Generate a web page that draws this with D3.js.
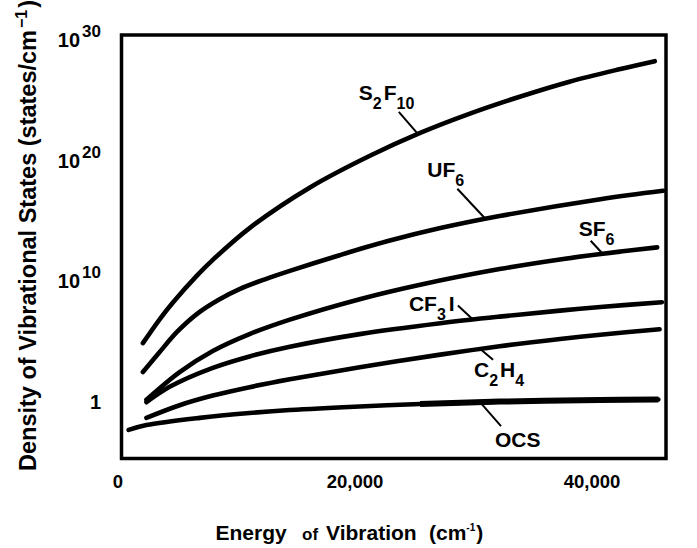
<!DOCTYPE html>
<html><head><meta charset="utf-8">
<script src="https://cdn.jsdelivr.net/npm/d3@7/dist/d3.min.js"></script>
<style>
body{margin:0;background:#fff}
svg{display:block}
text{font-family:"Liberation Sans",Arial,Helvetica,sans-serif;font-weight:bold;fill:#000}
</style>
</head><body>
<svg id="c" width="697" height="548"></svg>
<script>
// ---- data (energy in cm^-1, density as log10 of states/cm^-1) ----
const seriesNames = ["S2F10","UF6","SF6","CF3I","C2H4","OCS"];
const energyS2F10 = [2100,3500,4600,6700,8000,11100,16200,21300,25500,29700,33900,38100,42400,45300];
const log10S2F10  = [4.8,6.76,8.13,10.44,11.71,14.35,17.72,20.37,22.25,23.85,25.25,26.5,27.55,28.2];
const energyUF6   = [2100,3500,5000,6700,8500,10300,12400,14500,18700,22700,27200,32200,40700,46000];
const log10UF6    = [2.4,4.05,5.75,7.25,8.4,9.3,10.1,10.8,12.1,13.25,14.35,15.35,16.75,17.45];
const energySF6   = [2400,5200,8000,11100,14500,20400,25500,32200,37300,42400,45500];
const log10SF6    = [0.1,2.4,4.15,5.55,6.75,8.45,9.65,10.95,11.75,12.4,12.75];
const energyCF3I  = [2400,4400,8000,11100,14500,20400,27200,32200,37300,40700,45900];
const log10CF3I   = [-0.1,1.2,2.75,3.7,4.5,5.55,6.45,7.0,7.5,7.8,8.2];
const energyC2H4  = [2400,5200,8000,11100,14500,20400,27200,32200,37300,40700,45700];
const log10C2H4   = [-1.4,-0.35,0.45,1.15,1.8,2.8,3.85,4.55,5.15,5.5,5.95];
const energyOCS   = [900,2400,6900,11100,14500,20400,25500,32200,40700,45600];
const log10OCS    = [-2.4,-2.0,-1.4,-1.0,-0.75,-0.45,-0.25,-0.05,0.08,0.12];
const xTickValues = [0,20000,40000];
const xTickLabels = ["0","20,000","40,000"];
const yTickExponents = [0,10,20,30];

const energies = [energyS2F10,energyUF6,energySF6,energyCF3I,energyC2H4,energyOCS];
const logs = [log10S2F10,log10UF6,log10SF6,log10CF3I,log10C2H4,log10OCS];

// ---- layout ----
const frame = {left:121.5, right:666, top:35, bottom:458.5};
const svg = d3.select("#c");
svg.append("rect").attr("width",697).attr("height",548).attr("fill","#fff");

const x = d3.scaleLinear().domain([0,40000]).range([118,592]);
const y = d3.scaleLog().domain([1,1e30]).range([401,39.5]);

// frame
svg.append("rect")
  .attr("x",frame.left).attr("y",frame.top)
  .attr("width",frame.right-frame.left).attr("height",frame.bottom-frame.top)
  .attr("fill","none").attr("stroke","#000").attr("stroke-width",3.5);

// x tick labels
svg.selectAll(".xt").data(xTickValues).enter().append("text")
  .attr("class","xt").attr("x",d=>x(d)).attr("y",488)
  .attr("text-anchor","middle").attr("font-size",18.5)
  .text((d,i)=>xTickLabels[i]);

// y tick labels
yTickExponents.forEach(e=>{
  const t = svg.append("text").attr("x",101).attr("y",y(Math.pow(10,e))+7.5)
    .attr("text-anchor","end").attr("font-size",20);
  if(e===0){ t.text("1"); }
  else {
    t.append("tspan").text("10");
    t.append("tspan").attr("font-size",17).attr("dy",-10).attr("dx",2).text(String(e));
  }
});

// curves
const line = d3.line().x(d=>x(d.E)).y(d=>y(d.v)).curve(d3.curveCatmullRom.alpha(0.5));
const paths = {};
seriesNames.forEach((name,i)=>{
  const pts = energies[i].map((E,j)=>({E:E, v:Math.pow(10,logs[i][j])}));
  paths[name] = svg.append("path").datum(pts)
    .attr("d",line).attr("fill","none").attr("stroke","#000")
    .attr("stroke-width",4.6).attr("stroke-linecap","round").attr("stroke-linejoin","round");
  if(name==="OCS"){
    svg.append("path").datum(pts.filter(p=>p.E>=25500))
      .attr("d",line).attr("fill","none").attr("stroke","#000")
      .attr("stroke-width",6).attr("stroke-linecap","butt");
  }
});

function pointAtX(pathSel, px){
  const node = pathSel.node();
  let lo=0, hi=node.getTotalLength();
  for(let k=0;k<40;k++){
    const mid=(lo+hi)/2;
    if(node.getPointAtLength(mid).x < px) lo=mid; else hi=mid;
  }
  return node.getPointAtLength((lo+hi)/2);
}

// annotations
const annotations = [
  {key:"S2F10", E:25300, ptr:[-19,-22], lab:[-59,-34], parts:[["S",0,0],["2",1,0],["F",0,2],["10",1,0]]},
  {key:"UF6",   E:31000, ptr:[-28,-30], lab:[-58,-42], parts:[["UF",0,0],["6",1,0]]},
  {key:"SF6",   E:40900, ptr:[-12,-13], lab:[-24,-18], parts:[["SF",0,0],["6",1,0]]},
  {key:"CF3I",  E:29950, ptr:[-15,-14], lab:[-64,-9],  parts:[["CF",0,0],["3",1,0],["I",0,3]]},
  {key:"C2H4",  E:30550, ptr:[13,11],   lab:[-6,28],   parts:[["C",0,0],["2",1,0],["H",0,2],["4",1,0]]},
  {key:"OCS",   E:30550, ptr:[21,24],   lab:[15,45],   parts:[["OCS",0,0]]}
];
annotations.forEach(a=>{
  const p = pointAtX(paths[a.key], x(a.E));
  svg.append("line").attr("x1",p.x).attr("y1",p.y)
    .attr("x2",p.x+a.ptr[0]).attr("y2",p.y+a.ptr[1])
    .attr("stroke","#000").attr("stroke-width",2);
  const t = svg.append("text").attr("x",p.x+a.lab[0]).attr("y",p.y+a.lab[1]).attr("font-size",21);
  let cur = 0;
  a.parts.forEach(([s,sub,dx])=>{
    const target = sub ? 9 : 0;
    t.append("tspan").attr("font-size",sub?16:21).attr("dy",target-cur).attr("dx",dx).text(s);
    cur = target;
  });
});

// axis titles
const xl = svg.append("text").attr("y",540).attr("font-size",21);
xl.append("tspan").attr("x",215.5).text("Energy");
xl.append("tspan").attr("x",302).attr("font-size",17).text("of");
xl.append("tspan").attr("x",326).text("Vibration");
xl.append("tspan").attr("x",429).text("(cm");
xl.append("tspan").attr("font-size",10).attr("dy",-9).text("-1");
xl.append("tspan").attr("dy",9).attr("dx",1).text(")");

const yl = svg.append("text").attr("transform","translate(36,471) rotate(-90)").attr("font-size",23.5);
yl.append("tspan").text("Density of Vibrational States (states/cm");
yl.append("tspan").attr("font-size",16).attr("dy",-9).attr("dx",2).text("\u22121");
yl.append("tspan").attr("dy",9).attr("dx",2).text(")");
</script>
</body></html>
